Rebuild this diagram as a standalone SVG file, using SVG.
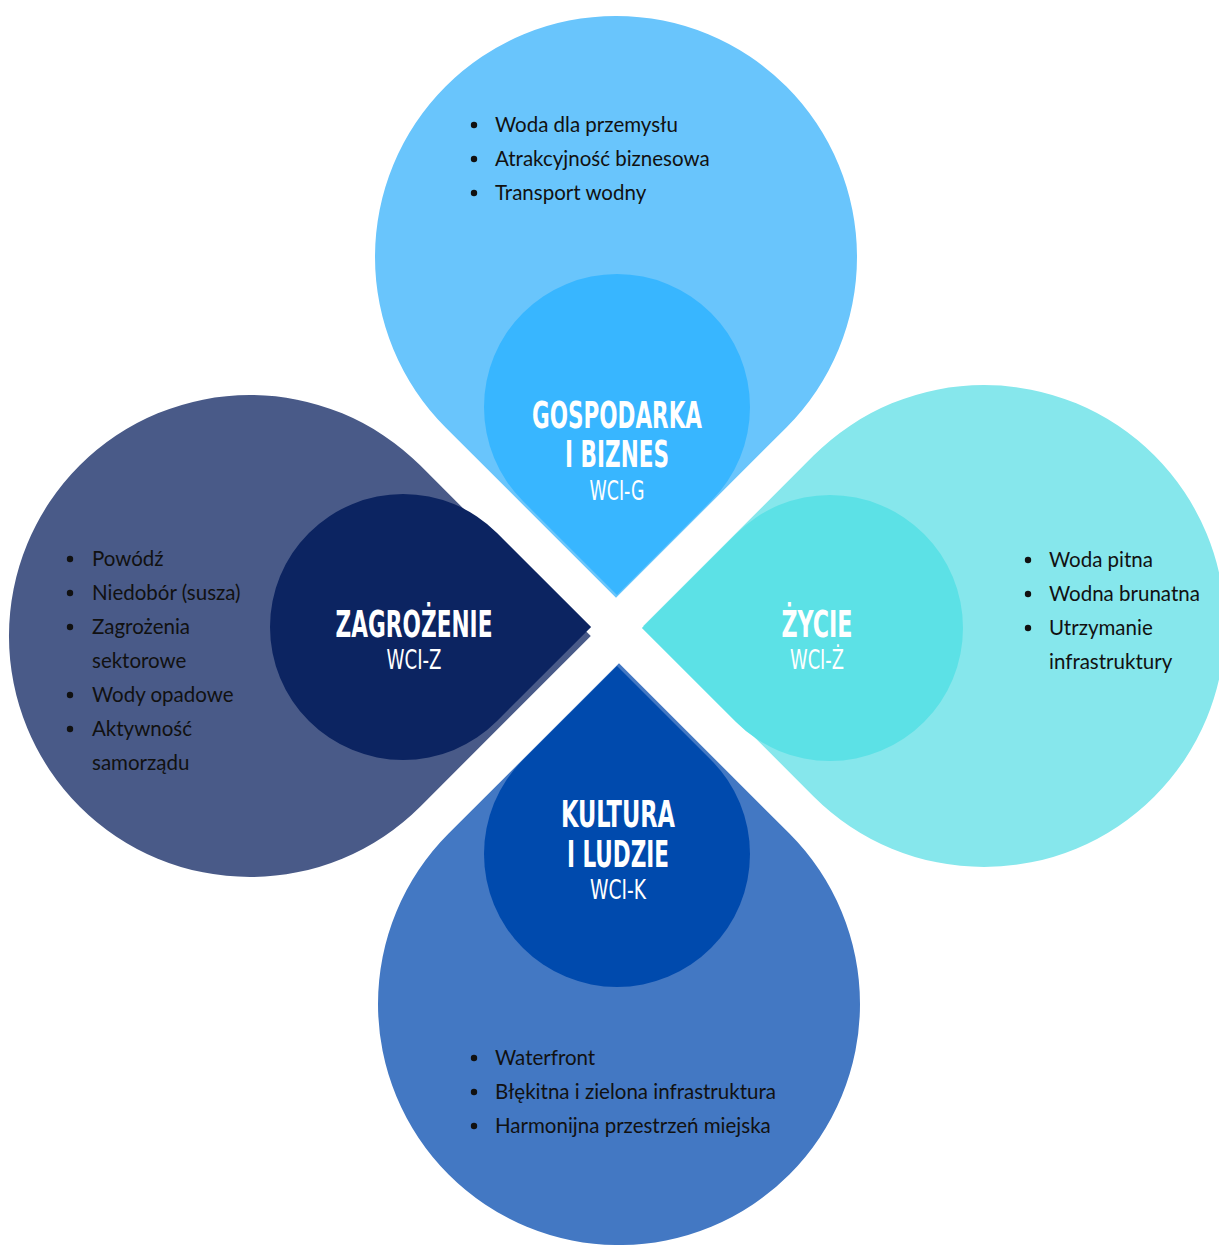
<svg xmlns="http://www.w3.org/2000/svg" width="1219" height="1245" viewBox="0 0 1219 1245">
<style>
.t{font-family:"DejaVu Sans Condensed","DejaVu Sans",sans-serif;font-stretch:condensed;font-weight:bold;font-size:38px;fill:#fff;text-anchor:middle}
.s{font-family:"DejaVu Sans Condensed","DejaVu Sans",sans-serif;font-stretch:condensed;font-size:27px;fill:#fff;text-anchor:middle}
.b{font-family:Lato,"Open Sans",sans-serif;font-size:20.5px;fill:#111}
.d{fill:#111}
</style>
<rect width="1219" height="1245" fill="#fff"/>
<g id="gospodarka">
<path d="M616,597.8 L786.4,427.4 A241,241 0 1 0 445.6,427.4 Z" fill="#69C5FC"/>
<path d="M617,595.1 L711.05,501.05 A133,133 0 1 0 522.95,501.05 Z" fill="#38B6FF"/>
<text class="t" x="617" y="428" textLength="170" lengthAdjust="spacingAndGlyphs">GOSPODARKA</text>
<text class="t" x="617" y="467" textLength="104" lengthAdjust="spacingAndGlyphs">I BIZNES</text>
<text class="s" x="617" y="500" textLength="55" lengthAdjust="spacingAndGlyphs">WCI-G</text>
<circle class="d" cx="474" cy="125" r="3.2"/><text class="b" x="495" y="132">Woda dla przemysłu</text>
<circle class="d" cx="474" cy="159" r="3.2"/><text class="b" x="495" y="166">Atrakcyjność biznesowa</text>
<circle class="d" cx="474" cy="193" r="3.2"/><text class="b" x="495" y="200">Transport wodny</text>
</g>
<g id="zagrozenie">
<path d="M590.8,636 L420.4,806.4 A241,241 0 1 1 420.4,465.6 Z" fill="#495A88"/>
<path d="M591.1,627 L497.05,721.05 A133,133 0 1 1 497.05,532.95 Z" fill="#0C2461"/>
<text class="t" x="414" y="637" textLength="157" lengthAdjust="spacingAndGlyphs">ZAGROŻENIE</text>
<text class="s" x="414" y="669" textLength="55" lengthAdjust="spacingAndGlyphs">WCI-Z</text>
<circle class="d" cx="70" cy="559" r="3.2"/><text class="b" x="92" y="566">Powódź</text>
<circle class="d" cx="70" cy="593" r="3.2"/><text class="b" x="92" y="600">Niedobór (susza)</text>
<circle class="d" cx="70" cy="627" r="3.2"/><text class="b" x="92" y="634">Zagrożenia</text>
<text class="b" x="92" y="668">sektorowe</text>
<circle class="d" cx="70" cy="695" r="3.2"/><text class="b" x="92" y="702">Wody opadowe</text>
<circle class="d" cx="70" cy="729" r="3.2"/><text class="b" x="92" y="736">Aktywność</text>
<text class="b" x="92" y="770">samorządu</text>
</g>
<g id="zycie">
<path d="M643.2,626 L813.6,455.6 A241,241 0 1 1 813.6,796.4 Z" fill="#86E7EC"/>
<path d="M641.9,628 L735.95,533.95 A133,133 0 1 1 735.95,722.05 Z" fill="#5CE1E6"/>
<text class="t" x="817" y="637" textLength="71" lengthAdjust="spacingAndGlyphs">ŻYCIE</text>
<text class="s" x="817" y="669" textLength="54" lengthAdjust="spacingAndGlyphs">WCI-Ż</text>
<circle class="d" cx="1028" cy="560" r="3.2"/><text class="b" x="1049" y="567">Woda pitna</text>
<circle class="d" cx="1028" cy="594" r="3.2"/><text class="b" x="1049" y="601">Wodna brunatna</text>
<circle class="d" cx="1028" cy="628" r="3.2"/><text class="b" x="1049" y="635">Utrzymanie</text>
<text class="b" x="1049" y="669">infrastruktury</text>
</g>
<g id="kultura">
<path d="M619,663.2 L448.6,833.6 A241,241 0 1 0 789.4,833.6 Z" fill="#4378C3"/>
<path d="M617,665.9 L522.95,759.95 A133,133 0 1 0 711.05,759.95 Z" fill="#004AAD"/>
<text class="t" x="618" y="827" textLength="114" lengthAdjust="spacingAndGlyphs">KULTURA</text>
<text class="t" x="618" y="867" textLength="102" lengthAdjust="spacingAndGlyphs">I LUDZIE</text>
<text class="s" x="618" y="899" textLength="56" lengthAdjust="spacingAndGlyphs">WCI-K</text>
<circle class="d" cx="474" cy="1058" r="3.2"/><text class="b" x="495" y="1065">Waterfront</text>
<circle class="d" cx="474" cy="1092" r="3.2"/><text class="b" x="495" y="1099">Błękitna i zielona infrastruktura</text>
<circle class="d" cx="474" cy="1126" r="3.2"/><text class="b" x="495" y="1133">Harmonijna przestrzeń miejska</text>
</g>
<g id="connectors"/>
</svg>
